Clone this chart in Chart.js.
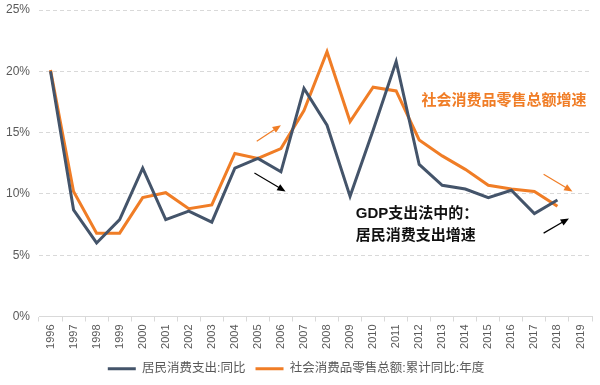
<!DOCTYPE html>
<html>
<head>
<meta charset="utf-8">
<script src="https://cdn.jsdelivr.net/npm/chart.js@4/dist/chart.umd.min.js"></script>
<style>
  html, body { margin: 0; padding: 0; background: #fff; }
  #wrap { width: 600px; height: 385px; position: relative; }
</style>
</head>
<body>
<div id="wrap"><canvas id="c"></canvas></div>
<script>
// data
const years = ['1996','1997','1998','1999','2000','2001','2002','2003','2004','2005','2006','2007',
  '2008','2009','2010','2011','2012','2013','2014','2015','2016','2017','2018','2019'];
const consumption = [20.0, 8.7, 6.0, 7.9, 12.1, 7.9, 8.6, 7.7, 12.1, 12.9, 11.8, 18.6,
  15.6, 9.8, 15.2, 20.8, 12.4, 10.7, 10.4, 9.7, 10.3, 8.4, 9.5, null];
const retail = [20.1, 10.2, 6.8, 6.8, 9.7, 10.1, 8.8, 9.1, 13.3, 12.9, 13.7, 16.8,
  21.6, 15.9, 18.7, 18.4, 14.4, 13.1, 12.0, 10.7, 10.4, 10.2, 9.0, null];
const seriesNames = ['居民消费支出:同比', '社会消费品零售总额:累计同比:年度'];
const yTicks = [0, 5, 10, 15, 20, 25];

const NAVY = '#44546a';
const ORANGE = '#f07d26';
const FONT = '"Liberation Sans", "Noto Sans CJK SC", sans-serif';

// annotation arrows and labels, in data units (x = category index, y = percent)
const arrows = [
  { from: [8.95, 14.3], to: [10.0, 15.6], color: ORANGE, width: 1.2 },
  { from: [8.85, 11.7], to: [10.2, 10.2], color: '#000', width: 1.2 },
  { from: [21.4, 11.6], to: [22.65, 10.2], color: ORANGE, width: 1.2 },
  { from: [21.4, 6.8], to: [22.5, 8.0], color: '#000', width: 1.2 }
];
const notes = [
  { text: '社会消费品零售总额增速', at: [16.1, 17.6], color: ORANGE },
  { text: 'GDP支出法中的：', at: [13.25, 8.4], color: '#111' },
  { text: '居民消费支出增速', at: [13.25, 6.6], color: '#111' }
];

const notePlugin = {
  id: 'notes',
  afterDatasetsDraw(chart) {
    const ctx = chart.ctx, x = chart.scales.x, y = chart.scales.y;
    ctx.save();
    arrows.forEach(a => {
      const x1 = x.getPixelForValue(a.from[0]), y1 = y.getPixelForValue(a.from[1]);
      const x2 = x.getPixelForValue(a.to[0]), y2 = y.getPixelForValue(a.to[1]);
      const ang = Math.atan2(y2 - y1, x2 - x1);
      const head = 9;
      ctx.strokeStyle = a.color;
      ctx.fillStyle = a.color;
      ctx.lineWidth = a.width;
      ctx.beginPath();
      ctx.moveTo(x1, y1);
      ctx.lineTo(x2 - head * 0.8 * Math.cos(ang), y2 - head * 0.8 * Math.sin(ang));
      ctx.stroke();
      ctx.beginPath();
      ctx.moveTo(x2, y2);
      ctx.lineTo(x2 - head * Math.cos(ang - 0.4), y2 - head * Math.sin(ang - 0.4));
      ctx.lineTo(x2 - head * Math.cos(ang + 0.4), y2 - head * Math.sin(ang + 0.4));
      ctx.closePath();
      ctx.fill();
    });
    ctx.font = 'bold 15px ' + FONT;
    ctx.textBaseline = 'middle';
    ctx.textAlign = 'left';
    notes.forEach(n => {
      ctx.fillStyle = n.color;
      ctx.fillText(n.text, x.getPixelForValue(n.at[0]), y.getPixelForValue(n.at[1]));
    });
    ctx.restore();
  }
};

new Chart(document.getElementById('c').getContext('2d'), {
  type: 'line',
  data: {
    labels: years,
    datasets: [
      { label: seriesNames[0], data: consumption, borderColor: NAVY, backgroundColor: NAVY,
        borderWidth: 3, pointRadius: 0, tension: 0, spanGaps: false },
      { label: seriesNames[1], data: retail, borderColor: ORANGE, backgroundColor: ORANGE,
        borderWidth: 3, pointRadius: 0, tension: 0, spanGaps: false }
    ]
  },
  options: {
    responsive: true,
    maintainAspectRatio: false,
    animation: false,
    layout: { padding: { left: 0, right: 8, top: 0, bottom: 0 } },
    plugins: {
      legend: {
        position: 'bottom',
        labels: {
          usePointStyle: true,
          pointStyle: 'line',
          pointStyleWidth: 28,
          boxHeight: 12,
          color: '#595959',
          font: { family: FONT, size: 12.5 },
          padding: 10
        }
      },
      tooltip: { enabled: false }
    },
    scales: {
      x: {
        offset: true,
        afterFit: s => { s.height = 36; },
        grid: { drawOnChartArea: false, drawTicks: true, tickLength: 5, offset: true, color: '#d9d9d9' },
        border: { display: true, color: '#d9d9d9' },
        ticks: { minRotation: 90, maxRotation: 90, autoSkip: false, color: '#595959',
          font: { family: FONT, size: 11 }, padding: 3 }
      },
      y: {
        min: 0, max: 25,
        afterBuildTicks: s => { s.ticks = yTicks.map(v => ({ value: v })); },
        afterFit: s => { s.width = 39; s.paddingTop = 10; s.paddingBottom = 0; },
        grid: { color: '#d9d9d9', drawTicks: false, lineWidth: 1 },
        border: { display: false, dash: [4, 3] },
        ticks: { color: '#595959', font: { family: FONT, size: 12 }, padding: 9,
          callback: v => v + '%' }
      }
    }
  },
  plugins: [notePlugin]
});
</script>
</body>
</html>
